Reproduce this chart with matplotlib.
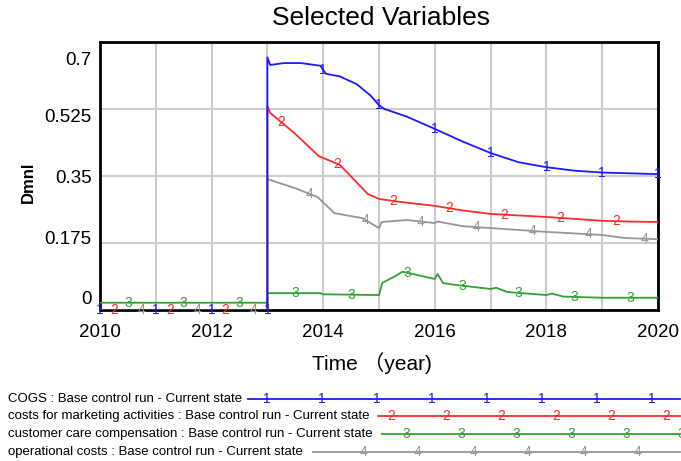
import numpy as np
import matplotlib
matplotlib.use("Agg")
import matplotlib.pyplot as plt
import matplotlib.transforms as mtransforms

plt.rcParams['font.family'] = ['Liberation Sans', 'Noto Sans CJK SC', 'DejaVu Sans']

# series (Vensim export)
t_cogs = [2010, 2013, 2013, 2013.05, 2013.3, 2013.6, 2013.95, 2014.05, 2014.3, 2014.6,
          2014.85, 2015.0, 2015.1, 2015.5, 2016, 2016.5, 2017, 2017.5, 2018, 2018.5,
          2019, 2019.5, 2020]
cogs = [0, 0, 0.66, 0.64, 0.645, 0.645, 0.638, 0.617, 0.61, 0.59,
        0.56, 0.535, 0.525, 0.505, 0.473, 0.44, 0.41, 0.386, 0.373, 0.364,
        0.359, 0.357, 0.355]

t_mkt = [2010, 2013, 2013, 2013.05, 2013.5, 2013.92, 2014.3, 2014.8, 2015.0, 2015.4,
         2016, 2016.5, 2017, 2017.5, 2018, 2018.5, 2019, 2019.5, 2020]
mkt = [0, 0, 0.533, 0.515, 0.46, 0.402, 0.379, 0.303, 0.29, 0.282,
       0.272, 0.26, 0.251, 0.247, 0.243, 0.238, 0.233, 0.231, 0.23]

t_care = [2010, 2013, 2013, 2013.95, 2014.0, 2015.0, 2015.06, 2015.3, 2015.42, 2016.0,
          2016.05, 2016.15, 2016.4, 2017, 2017.1, 2017.3, 2018, 2018.1, 2018.3, 2019, 2020]
care = [0.019, 0.019, 0.044, 0.044, 0.041, 0.039, 0.071, 0.089, 0.1, 0.081,
        0.094, 0.07, 0.065, 0.055, 0.058, 0.047, 0.039, 0.043, 0.035, 0.032, 0.032]

t_ops = [2010, 2013, 2013, 2013.5, 2013.9, 2014.2, 2014.7, 2015.0, 2015.05, 2015.5,
         2016, 2016.05, 2016.5, 2017, 2017.5, 2018, 2018.5, 2019, 2019.4, 2020]
ops = [0, 0, 0.342, 0.318, 0.295, 0.253, 0.24, 0.214, 0.23, 0.235,
       0.227, 0.231, 0.219, 0.214, 0.209, 0.204, 0.2, 0.196, 0.188, 0.185]

names = ["COGS : Base control run - Current state",
         "costs for marketing activities : Base control run - Current state",
         "customer care compensation : Base control run - Current state",
         "operational costs : Base control run - Current state"]
colors = ["#1a1aff", "#ff2a2a", "#33a033", "#969696"]
yticks = [0, 0.175, 0.35, 0.525, 0.7]
ytick_labels = ["0", "0.175", "0.35", "0.525", "0.7"]
xticks = [2010, 2012, 2014, 2016, 2018, 2020]

series = [(t_cogs, cogs), (t_mkt, mkt), (t_care, care), (t_ops, ops)]

fig = plt.figure(figsize=(6.81, 4.61), dpi=100)
ax = fig.add_axes([100 / 681, 1 - 310 / 461, 558 / 681, 268 / 461])
ax.set_xlim(2010, 2020)
ax.set_ylim(0, 0.7)

ax.set_xticks(np.arange(2010, 2021, 1), minor=True)
ax.set_xticks(xticks)
ax.set_xticklabels([str(x) for x in xticks], fontsize=13.5)
ax.set_yticks(yticks)
ax.set_yticklabels(ytick_labels, fontsize=13.5)
ax.tick_params(which='both', length=0)
ax.tick_params(axis='x', pad=10)
ax.tick_params(axis='y', pad=6)
ax.grid(True, which='both', color='#cccccc', linewidth=1.5)
ax.set_axisbelow(True)
for s in ax.spines.values():
    s.set_linewidth(2)
    s.set_color('black')

# vensim pushes the end labels inward
shifts = [9, 4, 0, -5, -12]
for lab, dy in zip(ax.get_yticklabels(), shifts):
    lab.set_transform(lab.get_transform() + mtransforms.ScaledTranslation(0, dy / 72, fig.dpi_scale_trans))

order = [3, 2, 1, 0]
for i in order:
    t, v = series[i]
    ax.plot(t, v, color=colors[i], linewidth=1.3, zorder=3 + (3 - i) * 0.1)

# numbered markers every year, offset by series
for i, (t, v) in enumerate(series):
    mt = np.arange(2010 + i * 0.25, 2020.01, 1.0)
    for x in mt:
        if x >= 2013 and x < 2013.01:
            y = v[1]
        else:
            y = np.interp(x, t, v)
        ax.text(x, y, str(i + 1), color=colors[i], fontsize=10, ha='center', va='center',
                zorder=5, clip_on=False)

fig.text(381 / 681, 1 - 18 / 461, "Selected Variables", fontsize=19, ha='center', va='center')
fig.text(372 / 681, 1 - 363 / 461, "Time （year)", fontsize=15, ha='center', va='center')
fig.text(28 / 681, 1 - 182 / 461, "Dmnl", fontsize=12, fontweight='bold', rotation=90,
         ha='center', va='center')

# legend block under the chart
lg = fig.add_axes([0, 0, 1, 1])
lg.set_xlim(0, 681)
lg.set_ylim(461, 0)
lg.axis('off')
row_y = [399, 416, 434, 452]
line_x0 = [248, 378, 382, 313]
mark_x0 = [267, 391, 406, 363]
for i in range(4):
    lg.text(8, row_y[i], names[i], fontsize=9.5, ha='left', va='center')
    lg.plot([line_x0[i], 680], [row_y[i], row_y[i]], color=colors[i], linewidth=1.3)
    for x in np.arange(mark_x0[i], 682, 55):
        lg.text(x, row_y[i], str(i + 1), color=colors[i], fontsize=10, ha='center', va='center')

fig.savefig("out.png", dpi=100)
